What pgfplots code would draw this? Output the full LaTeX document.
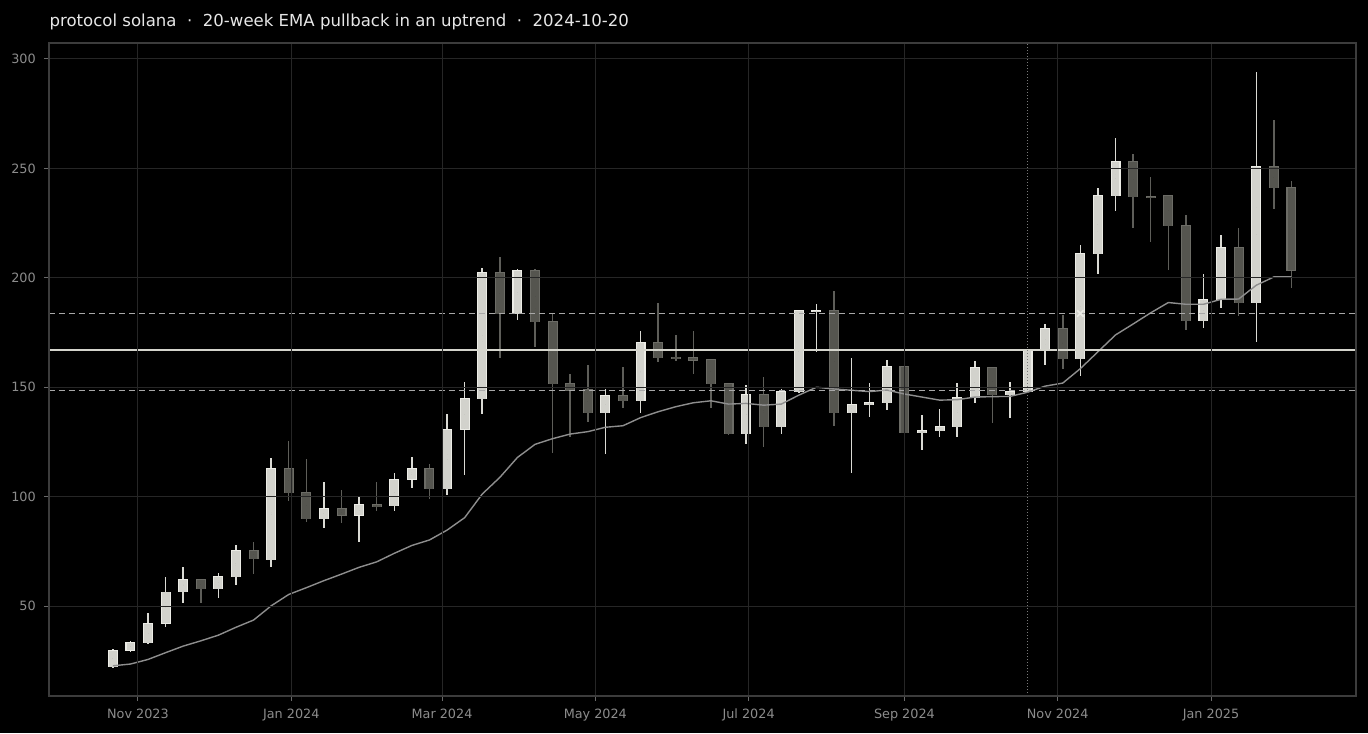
\documentclass[border=0pt]{standalone}
\usepackage{fontspec}
\setmainfont{DejaVu Sans}
\usepackage{pgfplots}
\usepackage{pgfplotstable}
\pgfplotsset{compat=1.18}

\definecolor{bg}{HTML}{000000}
\definecolor{framecol}{HTML}{3C3C3C}
\definecolor{gridcol}{HTML}{262626}
\definecolor{tickcol}{HTML}{6A6A6A}
\definecolor{labelcol}{HTML}{8C8C8C}
\definecolor{titlecol}{HTML}{E6E6E6}
\definecolor{upfill}{HTML}{D2D2CC}
\definecolor{upedge}{HTML}{ECECE6}
\definecolor{upwick}{HTML}{DADAD4}
\definecolor{dnfill}{HTML}{55554F}
\definecolor{dnedge}{HTML}{6C6C66}
\definecolor{dnwick}{HTML}{5E5E59}
\definecolor{emacol}{HTML}{8E8E8E}
\definecolor{levelcol}{HTML}{D4D4CC}
\definecolor{bandcol}{HTML}{A8A8A8}
\definecolor{vcol}{HTML}{7A7A7A}

% x = days since 2023-11-01, one candle per week
\pgfplotstableread{
d o h l c
-10 22.0 30.3 21.8 29.9
-3 29.4 34.0 29.0 33.4
4 33.0 46.7 32.5 42.1
11 41.8 63.4 40.3 56.6
18 56.3 68.0 51.6 62.2
32 57.7 65.2 53.9 63.7
39 63.1 77.7 59.5 75.5
53 70.9 117.5 67.8 112.9
74 89.6 106.8 85.9 94.7
88 91.1 99.7 79.1 96.5
102 95.6 110.6 93.4 107.9
109 107.6 118.2 103.8 112.9
123 103.3 137.6 100.6 130.8
130 130.4 152.2 110.1 144.9
137 144.4 204.3 137.8 202.5
151 183.3 204.0 180.7 203.4
186 138.0 149.0 119.5 146.3
200 143.6 175.5 138.0 170.5
242 128.5 150.9 124.0 146.8
256 131.7 149.0 128.5 148.1
263 147.7 185.5 147.5 185.2
270 184.3 188.0 166.0 185.2
284 138.0 163.2 110.6 142.2
291 141.7 151.8 136.3 143.1
298 142.7 162.3 139.4 159.6
312 128.9 137.1 121.2 130.3
319 129.8 139.9 127.1 132.1
326 131.6 151.8 127.1 145.4
333 145.0 161.8 142.7 159.1
347 146.3 152.2 135.8 148.1
354 147.7 167.5 147.5 167.3
361 166.9 178.7 160.0 176.9
375 162.8 215.2 155.1 211.2
382 210.8 240.9 201.6 237.7
389 237.3 263.8 230.4 253.2
424 180.1 201.6 176.9 190.2
431 189.7 219.4 186.1 213.9
445 188.3 293.9 170.6 250.9
}\uptab

\pgfplotstableread{
d o h l c
25 62.2 62.5 51.6 57.7
46 75.5 79.1 64.5 71.3
60 112.9 125.3 97.8 101.5
67 101.9 117.0 88.2 89.6
81 94.7 103.0 87.8 91.1
95 96.3 106.5 93.4 95.5
116 112.9 114.8 98.7 103.3
144 202.5 209.7 163.2 183.3
158 203.4 204.0 168.2 179.7
165 180.1 183.8 119.8 151.3
172 151.8 155.9 127.1 148.4
179 149.0 160.0 134.0 138.0
193 146.3 159.1 140.4 143.6
207 170.5 188.3 161.4 163.2
214 163.8 173.7 161.8 163.0
221 163.6 175.5 155.9 162.1
228 162.8 162.8 140.4 151.3
235 151.8 152.0 128.0 128.5
249 146.8 154.5 122.6 131.7
277 185.2 193.9 132.1 138.0
305 159.6 161.8 128.9 128.9
340 159.1 159.3 133.5 146.3
368 176.9 182.9 158.2 162.8
396 253.2 256.4 222.6 236.8
403 237.3 246.2 216.2 236.4
410 237.7 237.8 203.5 223.5
417 224.0 228.6 176.0 180.1
438 213.9 222.6 182.4 188.3
452 250.9 272.0 231.6 240.9
459 241.4 244.1 195.2 203.1
}\dntab

\pgfplotstableread{
d ema
-10 22.7
-3 23.5
4 25.6
11 28.7
18 31.7
25 34.1
32 36.7
39 40.3
46 43.6
53 50.1
60 55.3
67 58.4
74 61.6
81 64.6
88 67.7
95 70.2
102 74.1
109 77.7
116 80.2
123 84.7
130 90.4
137 101.2
144 108.8
151 117.9
158 123.9
165 126.5
172 128.6
179 129.7
186 131.7
193 132.4
200 136.1
207 138.8
214 141.1
221 142.9
228 143.8
235 142.3
242 142.6
249 141.8
256 142.3
263 146.4
270 150.0
277 149.2
284 148.6
291 148.0
298 148.7
305 146.9
312 145.5
319 144.1
326 144.3
333 145.5
340 145.7
347 145.8
354 147.7
361 150.5
368 151.9
375 158.5
382 166.2
389 173.9
396 178.9
403 184.0
410 188.7
417 187.9
424 187.9
431 190.2
438 190.3
445 196.6
452 200.4
459 200.5
}\ematab

\pgfplotsset{
  wickstyle/.style={only marks, mark=*, mark size=0pt,
    mark options={draw=none, fill=none}, forget plot,
    error bars/.cd, y dir=both, y explicit, error mark=none,
    error bar style={draw=#1, line width=0.75pt, line cap=butt}},
  bodystyle/.style 2 args={only marks, mark=*, mark size=0pt,
    mark options={draw=none, fill=none}, forget plot,
    error bars/.cd, y dir=both, y explicit, error mark=none,
    error bar style={draw=#1, line width=#2, line cap=butt}},
}

\begin{document}
\begin{tikzpicture}
\fill[bg] (0,0) rectangle (684pt,366.5pt);
\useasboundingbox (0,0) rectangle (684pt,366.5pt);
\node[anchor=base west, text=titlecol, inner sep=0pt,
      font=\fontsize{8.28pt}{9pt}\selectfont] at (24.6pt,353.3pt)
  {protocol solana\ \ ·\ \ 20-week EMA pullback in an uptrend\ \ ·\ \ 2024-10-20};
\begin{axis}[
  at={(24.5pt,18.5pt)}, anchor=south west,
  scale only axis, width=653.5pt, height=326.5pt,
  xmin=-35.4, xmax=484.7, ymin=8.9, ymax=307.3,
  axis background/.style={fill=bg},
  axis line style={draw=framecol, line width=0.6pt},
  axis on top,
  grid=major,
  grid style={draw=gridcol, line width=0.5pt},
  tick align=outside, tick pos=left,
  major tick length=2.5pt,
  tick style={draw=tickcol, line width=0.5pt},
  xtick={0,61,121,182,243,305,366,427},
  xticklabels={Nov 2023,Jan 2024,Mar 2024,May 2024,Jul 2024,Sep 2024,Nov 2024,Jan 2025},
  ytick={50,100,150,200,250,300},
  /pgf/number format/assume math mode=true,
  ticklabel style={font=\fontsize{6.4pt}{7pt}\selectfont, text=labelcol},
  xticklabel style={yshift=-0.3pt},
  yticklabel style={xshift=-0.6pt},
]
% wicks
\addplot[wickstyle=upwick] table[x=d, y expr={(\thisrow{h}+\thisrow{l})/2}, y error expr={(\thisrow{h}-\thisrow{l})/2}] {\uptab};
\addplot[wickstyle=dnwick] table[x=d, y expr={(\thisrow{h}+\thisrow{l})/2}, y error expr={(\thisrow{h}-\thisrow{l})/2}] {\dntab};
% bodies: rim then fill
\addplot[bodystyle={upedge}{5pt}] table[x=d, y expr={(\thisrow{o}+\thisrow{c})/2}, y error expr={max(abs(\thisrow{c}-\thisrow{o})/2,0.55)}] {\uptab};
\addplot[bodystyle={upfill}{3.9pt}] table[x=d, y expr={(\thisrow{o}+\thisrow{c})/2}, y error expr={max(abs(\thisrow{c}-\thisrow{o})/2-0.3,0.25)}] {\uptab};
\addplot[bodystyle={dnedge}{5pt}] table[x=d, y expr={(\thisrow{o}+\thisrow{c})/2}, y error expr={max(abs(\thisrow{c}-\thisrow{o})/2,0.55)}] {\dntab};
\addplot[bodystyle={dnfill}{3.9pt}] table[x=d, y expr={(\thisrow{o}+\thisrow{c})/2}, y error expr={max(abs(\thisrow{c}-\thisrow{o})/2-0.3,0.25)}] {\dntab};
% EMA
\addplot[emacol, line width=0.7pt, no marks] table[x=d, y=ema] {\ematab};
% levels
\addplot[levelcol, line width=0.9pt, no marks] coordinates {(-35.4,167.0) (484.7,167.0)};
\addplot[bandcol, line width=0.7pt, no marks, dash pattern=on 3pt off 2pt] coordinates {(-35.4,183.7) (484.7,183.7)};
\addplot[bandcol, line width=0.7pt, no marks, dash pattern=on 3pt off 2pt] coordinates {(-35.4,148.6) (484.7,148.6)};
% signal date
\addplot[vcol, line width=0.5pt, no marks, dash pattern=on 0.5pt off 1pt] coordinates {(354,8.9) (354,307.3)};
% marker
\addplot[only marks, mark=x, mark size=2.3pt, draw=upedge, line width=0.8pt] coordinates {(375,183.7)};
\end{axis}
\end{tikzpicture}
\end{document}
